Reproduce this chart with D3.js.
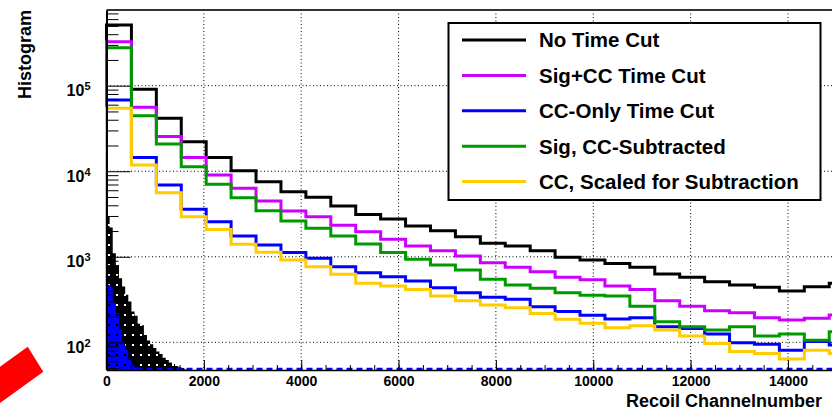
<!DOCTYPE html>
<html>
<head>
<meta charset="UTF-8">
<title>Recoil Channelnumber</title>
<script src="https://d3js.org/d3.v7.min.js"></script>
<style>
body { margin: 0; background: #fff; }
svg { font-family: "Liberation Sans", Arial, sans-serif; font-weight: bold; }
.grid line { stroke: #000; stroke-width: 1; stroke-dasharray: 1,2.5; }
.hist { fill: none; stroke-width: 3; }
.axis path, .axis line { stroke: #000; }
</style>
</head>
<body>
<svg width="832" height="411"></svg>
<script>
// main histograms, 512 channels per bin
var binWidth = 512;
var noTimeCut = [513000, 90800, 41600, 22100, 14500, 10100, 7550, 5770, 4960, 3920,
  3130, 2760, 2290, 2020, 1720, 1440, 1340, 1180, 985, 915,
  837, 753, 628, 575, 511, 468, 440, 398, 447, 490];
var sigCCCut = [327000, 55900, 25400, 14500, 9040, 6310, 4480, 3430, 2940, 2330,
  1960, 1600, 1340, 1180, 1020, 853, 753, 669, 575, 540,
  455, 416, 306, 265, 234, 222, 194, 183, 191, 209];
var ccOnlyCut = [68100, 14500, 6900, 3590, 2570, 1750, 1370, 1120, 960, 766,
  651, 585, 521, 435, 380, 336, 318, 261, 230, 208,
  187, 194, 152, 145, 125, 99, 95, 81, 102, 93];
var sigSubtracted = [278000, 44600, 20800, 11300, 7030, 4910, 3460, 2620, 2150, 1750,
  1410, 1120, 934, 801, 700, 545, 468, 428, 380, 355,
  348, 265, 174, 152, 139, 152, 119, 125, 106, 133];
var ccScaled = [54500, 11800, 5610, 2940, 2090, 1400, 1130, 916, 766, 624,
  490, 455, 416, 348, 306, 273, 254, 218, 186, 167,
  148, 156, 139, 119, 97, 78, 74, 64, 81, 74];

// fine binned spectra at the bottom, 64 channels per bin
var fineWidth = 64;
var fineAll = [3000, 2200, 1100, 800, 560, 450, 360, 300, 230, 205,
  165, 158, 122, 105, 95, 86, 78, 73, 66, 62, 58, 56, 53, 51, 50, 48, 46];
var fineCC = [470, 450, 300, 220, 140, 100, 82, 62, 56, 50, 46];

var xTicks = [0, 2000, 4000, 6000, 8000, 10000, 12000, 14000];
var yTicks = [100, 1000, 10000, 100000];
var yExp = ["2", "3", "4", "5"];

var series = [noTimeCut, sigCCCut, ccOnlyCut, sigSubtracted, ccScaled];
var labels = ["No Time Cut", "Sig+CC Time Cut", "CC-Only Time Cut", "Sig, CC-Subtracted", "CC, Scaled for Subtraction"];
var colors = ["#000000", "#cc00ff", "#0000ff", "#009a00", "#ffcc00"];

var pLeft = 106.5, pTop = 10, pBottom = 370, pRight = 904;
var yMin = 47.5, yMax = 767000;

var svg = d3.select("svg");

var x = d3.scaleLinear().domain([0, 16384]).range([pLeft, pRight]);
var y = d3.scaleLog().domain([yMin, yMax]).range([pBottom, pTop]);

var defs = svg.append("defs");
defs.append("clipPath").attr("id", "plot")
  .append("rect").attr("x", pLeft - 2).attr("y", pTop)
  .attr("width", pRight - pLeft + 2).attr("height", pBottom - pTop);

var pk = defs.append("pattern").attr("id", "dotsK").attr("patternUnits", "userSpaceOnUse")
  .attr("width", 8).attr("height", 10);
pk.append("rect").attr("width", 8).attr("height", 10).attr("fill", "#000");
pk.append("rect").attr("x", 4).attr("y", 4).attr("width", 2).attr("height", 2).attr("fill", "#fff");
var pb = defs.append("pattern").attr("id", "dotsB").attr("patternUnits", "userSpaceOnUse")
  .attr("width", 8).attr("height", 10);
pb.append("rect").attr("width", 8).attr("height", 10).attr("fill", "#0000ff");
pb.append("rect").attr("x", 4).attr("y", 4).attr("width", 2).attr("height", 2).attr("fill", "#000");

// grid
var grid = svg.append("g").attr("class", "grid");
grid.selectAll(".gx").data(xTicks.slice(1)).enter().append("line")
  .attr("x1", d => x(d)).attr("x2", d => x(d)).attr("y1", pTop).attr("y2", pBottom);
grid.selectAll(".gy").data(yTicks).enter().append("line")
  .attr("x1", pLeft).attr("x2", pRight).attr("y1", d => y(d)).attr("y2", d => y(d));

var plot = svg.append("g").attr("clip-path", "url(#plot)");

function steps(vals, w) {
  var pts = vals.map((v, i) => [i * w, Math.max(v, yMin)]);
  pts.push([vals.length * w, Math.max(vals[vals.length - 1], yMin)]);
  return pts;
}

var area = d3.area().curve(d3.curveStepAfter)
  .x(d => x(d[0])).y0(pBottom).y1(d => y(d[1]));

plot.append("path").datum(steps(fineAll, fineWidth)).attr("d", area).attr("fill", "url(#dotsK)");
plot.append("path").datum(steps(fineCC, fineWidth)).attr("d", area).attr("fill", "url(#dotsB)");

// zero bins of the fine spectra along the floor
plot.append("line").attr("x1", pLeft).attr("x2", pRight).attr("y1", pBottom - 1).attr("y2", pBottom - 1)
  .attr("stroke", "#0000ff").attr("stroke-width", 2.5).attr("stroke-dasharray", "6,4");

var line = d3.line().curve(d3.curveStepAfter).x(d => x(d[0])).y(d => y(d[1]));

series.forEach(function(s, i) {
  var pts = [[0, yMin]].concat(steps(s, binWidth));
  plot.append("path").datum(pts).attr("class", "hist")
    .attr("stroke", colors[i]).attr("d", line);
});

// frame
svg.append("line").attr("x1", pLeft).attr("x2", pRight).attr("y1", pTop).attr("y2", pTop)
  .attr("stroke", "#333").attr("stroke-width", 2);

// x axis
svg.append("g").attr("class", "axis")
  .attr("transform", "translate(0," + pBottom + ")")
  .call(d3.axisBottom(x).tickValues(d3.range(0, 16001, 500)).tickSize(-5).tickSizeOuter(0).tickFormat(""))
  .select(".domain").attr("stroke-width", 1.5);
svg.append("g").attr("class", "axis")
  .attr("transform", "translate(0," + pBottom + ")")
  .call(d3.axisBottom(x).tickValues(xTicks).tickSize(-10).tickSizeOuter(0).tickPadding(6).tickFormat(d3.format("d")))
  .call(g => g.select(".domain").remove())
  .selectAll("text").attr("font-size", 14).attr("font-weight", "bold").attr("fill", "#000")
  .attr("font-family", "Liberation Sans, Arial, sans-serif");

// y axis
var minor = y.ticks().filter(d => yTicks.indexOf(d) < 0);
svg.append("g").attr("class", "axis")
  .attr("transform", "translate(" + pLeft + ",0)")
  .call(d3.axisLeft(y).tickValues(minor).tickSize(-12).tickSizeOuter(0).tickFormat(""))
  .select(".domain").attr("stroke-width", 2);
var ya = svg.append("g").attr("class", "axis")
  .attr("transform", "translate(" + pLeft + ",0)")
  .call(d3.axisLeft(y).tickValues(yTicks).tickSize(-24).tickSizeOuter(0).tickFormat(""));
ya.select(".domain").remove();
ya.selectAll(".tick").each(function(d, i) {
  var t = d3.select(this).append("text").attr("x", -16).attr("dy", "0.62em")
    .attr("text-anchor", "end").attr("fill", "#000").attr("font-size", 16)
    .attr("font-family", "Liberation Sans, Arial, sans-serif").attr("font-weight", "bold");
  t.append("tspan").text("10");
  t.append("tspan").attr("dy", "-0.55em").attr("font-size", 11).text(yExp[i]);
});

// axis titles
svg.append("text").attr("transform", "translate(31,10) rotate(-90)")
  .attr("text-anchor", "end").attr("font-size", 18).text("Histogram");
svg.append("text").attr("x", 822).attr("y", 407)
  .attr("text-anchor", "end").attr("font-size", 18).text("Recoil Channelnumber");

// legend
var lg = svg.append("g");
lg.append("rect").attr("x", 448.5).attr("y", 23).attr("width", 372).attr("height", 177)
  .attr("fill", "#fff").attr("stroke", "#000").attr("stroke-width", 2);
labels.forEach(function(l, i) {
  var ly = 40 + i * 35.4;
  lg.append("line").attr("x1", 462).attr("x2", 526).attr("y1", ly).attr("y2", ly)
    .attr("stroke", colors[i]).attr("stroke-width", 3);
  lg.append("text").attr("x", 539).attr("y", ly + 7.3).attr("font-size", 20.5).text(l);
});

// red marker in the corner
svg.append("polygon").attr("points", "0,366.7 27.7,346.7 43.3,371.7 0,402.9").attr("fill", "#ff0000");
</script>
</body>
</html>
